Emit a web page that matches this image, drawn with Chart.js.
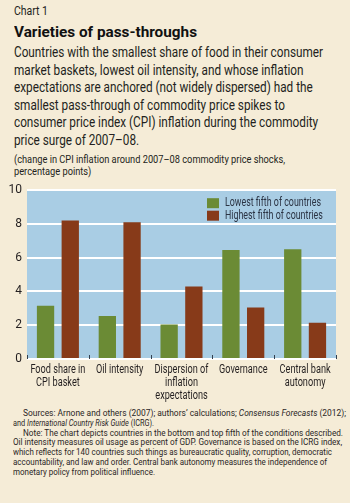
<!DOCTYPE html>
<html>
<head>
<meta charset="utf-8">
<script src="https://cdn.jsdelivr.net/npm/chart.js@4"></script>
<style>
  html, body { margin: 0; padding: 0; }
  body { width: 350px; height: 503px; background: #f5ecd7; position: relative; overflow: hidden;
         font-family: Roboto, sans-serif; color: #231f20; }
  .blk { position: absolute; left: 14px; white-space: nowrap; }
  .blk span { display: inline-block; transform-origin: 0 0; }
  #kicker { top: 4px; font-size: 12.5px; line-height: 14px; }
  #title { top: 23px; font-size: 15.5px; line-height: 18px; font-weight: bold; color: #111; }
  #deck { top: 44px; font-size: 15px; line-height: 17.6px; }
  #unit { top: 154px; font-size: 11px; line-height: 12px; }
  #notes { top: 408px; left: 13px; font-size: 9.6px; line-height: 9.75px; color: #2a2626; }
  #notes .ind { padding-left: 10px; }
  #wrap { position: absolute; left: 0; top: 178px; width: 350px; height: 227px; }
</style>
</head>
<body>
<div id="kicker" class="blk" data-w="34"><div><span>Chart 1</span></div></div>
<div id="title" class="blk" data-w="183"><div><span>Varieties of pass-throughs</span></div></div>
<div id="deck" class="blk" data-w="309">
  <div><span>Countries with the smallest share of food in their consumer</span></div>
  <div><span>market baskets, lowest oil intensity, and whose inflation</span></div>
  <div><span>expectations are anchored (not widely dispersed) had the</span></div>
  <div><span>smallest pass-through of commodity price spikes to</span></div>
  <div><span>consumer price index (CPI) inflation during the commodity</span></div>
  <div><span>price surge of 2007–08.</span></div>
</div>
<div id="unit" class="blk" data-w="271">
  <div><span>(change in CPI inflation around 2007–08 commodity price shocks,</span></div>
  <div><span>percentage points)</span></div>
</div>
<div id="notes" class="blk">
  <div class="ind"><span data-w="323">Sources: Arnone and others (2007); authors’ calculations; <i>Consensus Forecasts</i> (2012);</span></div>
  <div><span data-w="141">and <i>International Country Risk Guide</i> (ICRG).</span></div>
  <div class="ind"><span data-w="320">Note: The chart depicts countries in the bottom and top fifth of the conditions described.</span></div>
  <div><span data-w="329">Oil intensity measures oil usage as percent of GDP. Governance is based on the ICRG index,</span></div>
  <div><span data-w="319">which reflects for 140 countries such things as bureaucratic quality, corruption, democratic</span></div>
  <div><span data-w="314">accountability, and law and order. Central bank autonomy measures the independence of</span></div>
  <div><span data-w="142">monetary policy from political influence.</span></div>
</div>
<div id="wrap"><canvas id="c" width="350" height="227"></canvas></div>
<script>
const categories = [
  ["Food share in", "CPI basket"],
  ["Oil intensity"],
  ["Dispersion of", "inflation", "expectations"],
  ["Governance"],
  ["Central bank", "autonomy"]
];
const lowestFifth = [3.15, 2.55, 2.05, 6.45, 6.5];
const highestFifth = [8.2, 8.1, 4.3, 3.05, 2.15];
const yTicks = [0, 2, 4, 6, 8, 10];

const FONT = "Roboto, sans-serif";

// squeeze the text so it reads like the condensed print face
document.querySelectorAll(".blk").forEach(el => {
  const spans = el.querySelectorAll("span");
  const k0 = el.dataset.w ? parseFloat(el.dataset.w) / spans[0].getBoundingClientRect().width : 1;
  spans.forEach(s => {
    const k = s.dataset.w ? parseFloat(s.dataset.w) / s.getBoundingClientRect().width : k0;
    s.style.transform = "scaleX(" + k + ")";
  });
});

function squeezed(ctx, text, x, y, k, align) {
  const w = ctx.measureText(text).width * k;
  const x0 = align === "center" ? x - w / 2 : x;
  ctx.save();
  ctx.translate(x0, y);
  ctx.scale(k, 1);
  ctx.fillText(text, 0, 0);
  ctx.restore();
}

const chartDeco = {
  id: "chartDeco",
  beforeDraw(chart) {
    const a = chart.chartArea, ctx = chart.ctx;
    ctx.save();
    ctx.fillStyle = "#a9cde4";
    ctx.fillRect(a.left, a.top, a.right - a.left, a.bottom - a.top);
    ctx.restore();
  },
  afterDatasetsDraw(chart) {
    const a = chart.chartArea, ctx = chart.ctx;
    const x = chart.scales.x;
    const step = (a.right - a.left) / categories.length;
    ctx.save();
    // small ticks between categories
    ctx.strokeStyle = "#33404f";
    ctx.lineWidth = 1;
    for (let i = 0; i <= categories.length; i++) {
      const px = Math.round(a.left + i * step) + 0.5;
      ctx.beginPath();
      ctx.moveTo(px, a.bottom);
      ctx.lineTo(px, a.bottom - 4);
      ctx.stroke();
    }
    // category labels
    ctx.fillStyle = "#231f20";
    ctx.font = "12.5px " + FONT;
    ctx.textBaseline = "middle";
    const kx = 55 / ctx.measureText("Food share in").width;
    categories.forEach((lines, i) => {
      const cx = x.getPixelForValue(i);
      lines.forEach((t, j) => squeezed(ctx, t, cx, a.bottom + 11 + j * 13, kx, "center"));
    });
    // legend inside the plot
    ctx.font = "12px " + FONT;
    const kl = 96 / ctx.measureText("Lowest fifth of countries").width;
    chart.data.datasets.forEach((ds, i) => {
      const y = a.top + 13 + i * 12.5;
      ctx.fillStyle = ds.backgroundColor;
      ctx.fillRect(207, y - 5, 12, 10);
      ctx.fillStyle = "#2b3444";
      squeezed(ctx, ds.label, 225, y, kl, "left");
    });
    ctx.restore();
  }
};

new Chart(document.getElementById("c"), {
  type: "bar",
  data: {
    labels: categories,
    datasets: [
      { label: "Lowest fifth of countries", data: lowestFifth, backgroundColor: "#6b8b35" },
      { label: "Highest fifth of countries", data: highestFifth, backgroundColor: "#873a19" }
    ]
  },
  options: {
    responsive: false,
    animation: false,
    layout: { padding: { top: 6, right: 14, left: 0, bottom: 0 } },
    datasets: { bar: { categoryPercentage: 0.8, barPercentage: 0.7 } },
    plugins: { legend: { display: false }, tooltip: { enabled: false } },
    scales: {
      x: {
        grid: { display: false },
        border: { display: false },
        ticks: { display: false },
        afterFit(s) { s.height = 46; }
      },
      y: {
        min: 0, max: 10,
        afterBuildTicks(s) { s.ticks = yTicks.map(v => ({ value: v })); },
        grid: { color: "#ffffff", lineWidth: 2, drawTicks: false },
        border: { display: false },
        ticks: { color: "#231f20", font: { family: FONT, size: 12 }, padding: 5 },
        afterFit(s) { s.width = 27; }
      }
    }
  },
  plugins: [chartDeco]
});
</script>
</body>
</html>
